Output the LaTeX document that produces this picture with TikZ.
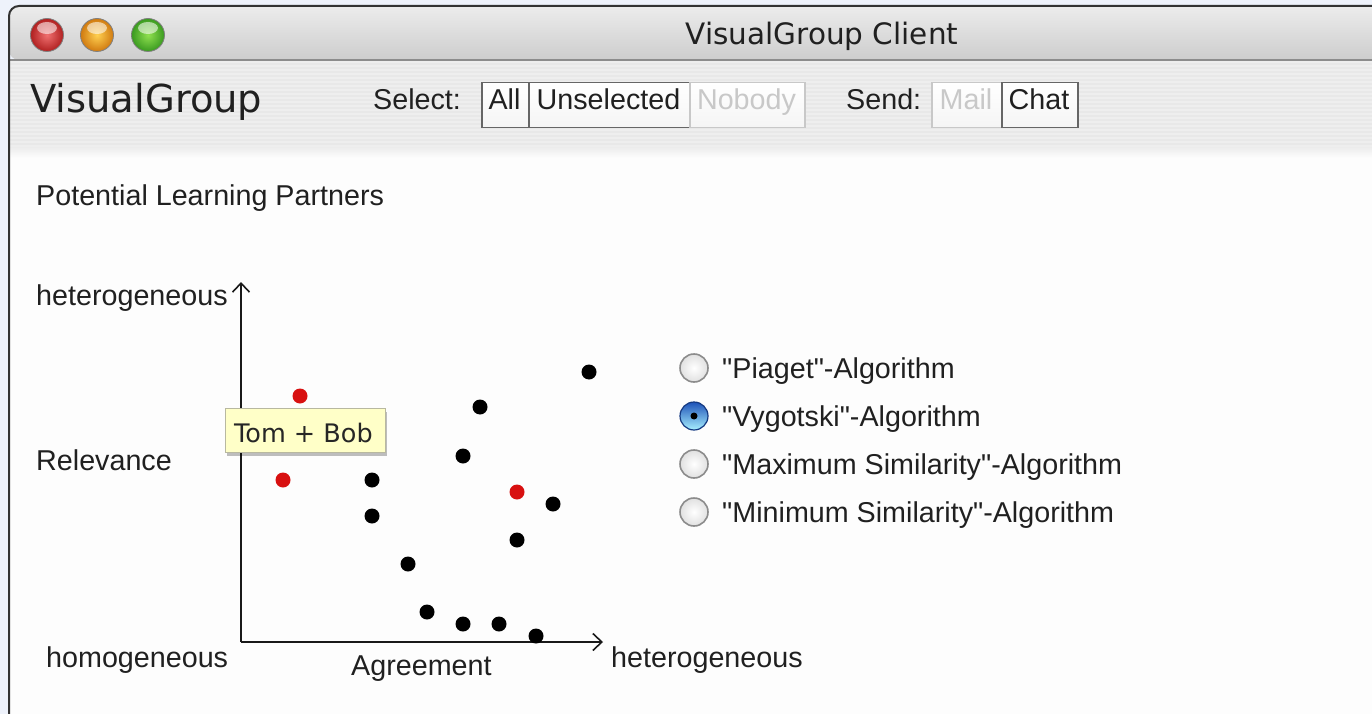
\documentclass[tikz,border=0pt]{standalone}
\usepackage{fontspec}
\setmainfont{Liberation Sans}
\newfontfamily\plainsans{Liberation Sans}
\newfontfamily\lucida{DejaVu Sans}
\usetikzlibrary{arrows.meta,shadows}
\definecolor{outerbg}{HTML}{EEF2FB}
\definecolor{txt}{HTML}{202020}
\definecolor{tbtop}{HTML}{ECECEC}
\definecolor{tbbot}{HTML}{CDCDCD}
\definecolor{toolbg}{HTML}{EEEEEE}
\definecolor{stripe}{HTML}{E8E8E8}
\definecolor{contentbg}{HTML}{FDFDFD}
\definecolor{dimtxt}{HTML}{C8C8C8}
\definecolor{tipfill}{HTML}{FFFFC8}
\definecolor{tipdraw}{HTML}{B8B8A0}
\definecolor{dotred}{HTML}{D81010}
\definecolor{aquablue}{HTML}{1D52B8}
\definecolor{aquacyan}{HTML}{A8F0FF}
\definecolor{redlo}{HTML}{F07070}
\definecolor{redhi}{HTML}{B02020}
\definecolor{orglo}{HTML}{FFD050}
\definecolor{orghi}{HTML}{D07A10}
\definecolor{grnlo}{HTML}{90E050}
\definecolor{grnhi}{HTML}{3A9A20}
\newcommand\bodysz{\fontsize{28.7}{34}\selectfont}
\tikzset{
  lbl/.style={anchor=base west, inner sep=0pt, text=txt, font=\plainsans\bodysz},
  light/.style={circle, inner sep=0pt, minimum size=33pt, draw=black!50, line width=0.8pt},
  btnbox/.style={anchor=north west, rectangle, inner sep=0pt, minimum height=45pt,
     draw=black!60, line width=1.5pt, top color=white, bottom color=black!4},
  dimbox/.style={btnbox, draw=dimtxt},
  btntxt/.style={anchor=base, inner sep=0pt, text=txt, font=\plainsans\bodysz},
  dimtxtst/.style={btntxt, text=dimtxt},
  pt/.style={circle, fill=black, inner sep=0pt, minimum size=15pt},
  ptred/.style={pt, fill=dotred},
  radio/.style={circle, inner sep=0pt, minimum size=28pt, draw=black!45, line width=1.6pt,
     inner color=white, outer color=black!12},
  radiosel/.style={circle, inner sep=0pt, minimum size=28pt, draw=aquablue!70!black, line width=1.2pt,
     top color=aquablue, bottom color=aquacyan},
  axis/.style={line width=2pt, draw=black!90, -{Straight Barb[length=9pt,width=17pt,line width=1.6pt]}},
  gloss/.style={fill=white, opacity=0.55},
}
\begin{document}
\begin{tikzpicture}[x=1pt,y=-1pt]
\useasboundingbox (0,0) rectangle (1372,714);
\fill[outerbg] (0,0) rectangle (1372,714);
% window content
\fill[contentbg] (9,150) rectangle (1372,714);
% toolbar
\fill[toolbg] (9,60) rectangle (1372,148);
\foreach \yy in {63,67,...,143} \fill[stripe] (10,\yy) rectangle (1372,\yy+2);
\shade[top color=toolbg, bottom color=contentbg] (9,148) rectangle (1372,158);
% title bar
\shade[top color=tbtop, bottom color=tbbot, rounded corners=10pt] (9,60) -- (9,6) -- (1390,6) -- (1390,60) -- cycle;
\draw[black!45, line width=1.5pt] (9,60) -- (1372,60);
% window border
\draw[black!80, line width=2pt, rounded corners=10pt] (9,730) -- (9,6) -- (1390,6);
% traffic lights
\node[light, inner color=redlo, outer color=redhi] (closebtn) at (47,35) {};
\node[light, inner color=orglo, outer color=orghi] (minbtn) at (97,35) {};
\node[light, inner color=grnlo, outer color=grnhi] (zoombtn) at (148,35) {};
\foreach \n in {closebtn,minbtn,zoombtn}
  \fill[gloss] ([yshift=7pt]\n.center) ellipse [x radius=10pt, y radius=6pt];
\node[anchor=base, inner sep=0pt, text=txt, font=\lucida\fontsize{29.5}{34}\selectfont] (title) at (822,45) {VisualGroup Client};
% toolbar content
\node[anchor=base west, inner sep=0pt, text=txt, font=\lucida\fontsize{38.5}{44}\selectfont] (brand) at (30,113) {VisualGroup};
\node[lbl] (selectlbl) at (373,110) {Select:};
\node[btnbox, minimum width=47pt] (allbox) at (481,82) {};
\node[btnbox, minimum width=161pt] (unselbox) at (528,82) {};
\node[dimbox, minimum width=115pt] (nobodybox) at (689,82) {};
\node[btntxt] (alltxt) at (504.5,110) {All};
\node[btntxt] (unseltxt) at (608.5,110) {Unselected};
\node[dimtxtst] (nobodytxt) at (746.5,110) {Nobody};
\node[lbl] (sendlbl) at (846,110) {Send:};
\node[dimbox, minimum width=70pt] (mailbox) at (931,82) {};
\node[btnbox, minimum width=76pt] (chatbox) at (1001,82) {};
\node[dimtxtst] (mailtxt) at (966,110) {Mail};
\node[btntxt] (chattxt) at (1039,110) {Chat};
% heading
\node[lbl] (heading) at (36,205) {Potential Learning Partners};
% axes
\coordinate (origin) at (241,642);
\coordinate (ytop) at (241,282);
\coordinate (xend) at (603,642);
\draw[axis] (origin) -- (ytop);
\draw[axis] (origin) -- (xend);
\node[lbl] (yhi) at (36,305) {heterogeneous};
\node[lbl] (ylab) at (36,470) {Relevance};
\node[lbl] (ylo) at (46,667) {homogeneous};
\node[lbl] (xlab) at (351,675) {Agreement};
\node[lbl] (xhi) at (611,667) {heterogeneous};
% points
\node[pt] (p1) at (589,372) {};
\node[pt] (p2) at (480,407) {};
\node[pt] (p3) at (463,456) {};
\node[pt] (p4) at (372,480) {};
\node[pt] (p5) at (372,516) {};
\node[pt] (p6) at (553,504) {};
\node[pt] (p7) at (517,540) {};
\node[pt] (p8) at (408,564) {};
\node[pt] (p9) at (427,612) {};
\node[pt] (p10) at (463,624) {};
\node[pt] (p11) at (499,624) {};
\node[pt] (p12) at (536,636) {};
\node[ptred] (r1) at (300,396) {};
\node[ptred] (r2) at (283,480) {};
\node[ptred] (r3) at (517,492) {};
% tooltip
\node[anchor=north west, rectangle, inner sep=0pt, minimum width=160pt, minimum height=44pt,
      fill=tipfill, draw=tipdraw, line width=0.8pt,
      drop shadow={shadow xshift=2pt, shadow yshift=-4pt, opacity=0.25, fill=black}] (tipbox) at (225,408) {};
\node[anchor=base west, inner sep=0pt, text=black!85, font=\lucida\fontsize{25.5}{30}\selectfont] (tiptxt) at (234,442) {Tom + Bob};
% radio buttons
\node[radio] (rb1) at (694,368) {};
\node[radiosel] (rb2) at (694,416) {};
\node[circle, fill=black, inner sep=0pt, minimum size=7pt] (rb2dot) at (rb2.center) {};
\node[radio] (rb3) at (694,464) {};
\node[radio] (rb4) at (694,512) {};
\node[lbl] (alg1) at (722,378) {"Piaget"-Algorithm};
\node[lbl] (alg2) at (722,426) {"Vygotski"-Algorithm};
\node[lbl] (alg3) at (722,474) {"Maximum Similarity"-Algorithm};
\node[lbl] (alg4) at (722,522) {"Minimum Similarity"-Algorithm};
\end{tikzpicture}
\end{document}
